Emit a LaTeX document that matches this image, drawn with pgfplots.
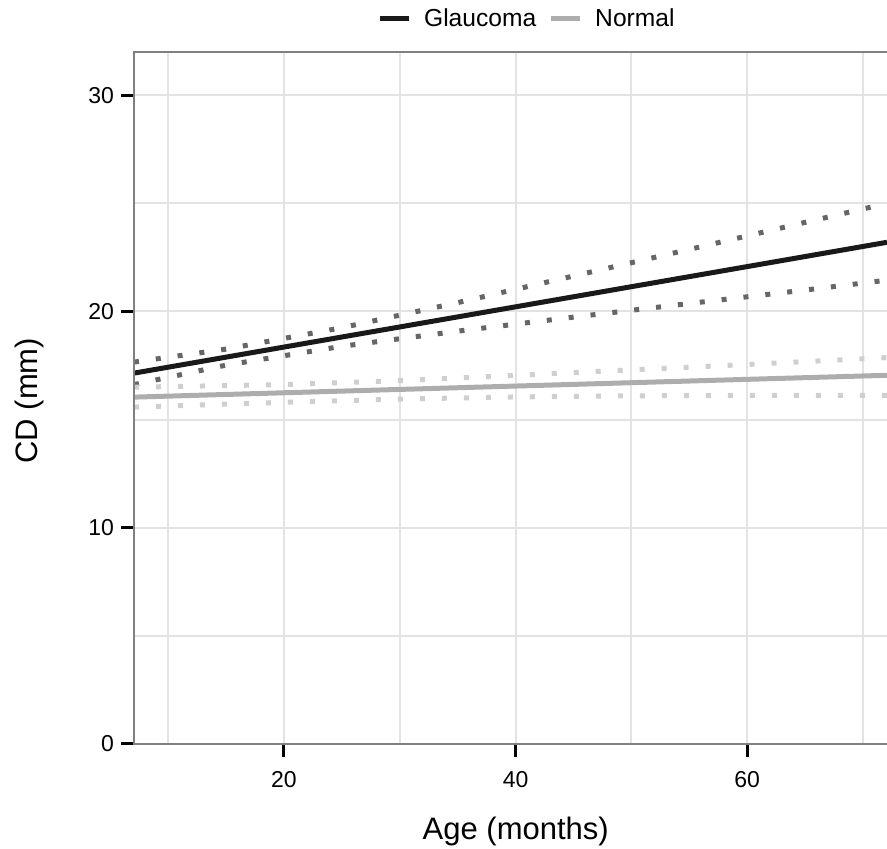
\documentclass[border=0pt]{standalone}
\usepackage{fontspec}
\setmainfont{Liberation Sans}
\usepackage{pgfplots}
\pgfplotsset{compat=1.18}
\definecolor{gridc}{HTML}{E3E3E3}
\definecolor{axisc}{HTML}{808080}
\definecolor{ciG}{HTML}{666666}
\definecolor{normc}{HTML}{ADADAD}
\definecolor{ciN}{HTML}{CFCFCF}
\begin{document}
\begin{tikzpicture}
\begin{axis}[name=ax, scale only axis, width=376.5pt, height=346pt,
  xmin=7.05, xmax=72.08, ymin=0, ymax=32,
  xtick={20,40,60}, ytick={0,10,20,30},
  xticklabels={20,40,60}, yticklabels={0,10,20,30},
  minor xtick={10,30,50,70}, minor ytick={5,15,25},
  grid=both,
  major grid style={gridc, line width=1pt},
  minor grid style={gridc, line width=1pt},
  axis line style={draw=none},
  tick align=outside, xtick pos=bottom, ytick pos=left,
  major tick length=6.5pt, minor tick length=0pt,
  tick style={black, line width=1.5pt},
  xticklabel style={font=\fontsize{11.5}{14}\selectfont, yshift=-3.5pt},
  yticklabel style={font=\fontsize{11.5}{14}\selectfont},
  xlabel={Age (months)}, ylabel={CD (mm)},
  label style={font=\fontsize{15.5}{18}\selectfont},
  xlabel style={at={(axis description cs:0.507,-0.1387)}, anchor=base},
  ylabel style={at={(axis description cs:-0.1275,0.496)}, anchor=base},
  legend columns=2,
  legend style={at={(axis description cs:0.523,1.0477)}, anchor=center,
    draw=none, fill=none, font=\fontsize{12.3}{14}\selectfont,
    /tikz/every odd column/.append style={column sep=4.5pt},
    /tikz/every even column/.append style={column sep=4pt}},
  legend image code/.code={\draw[#1, line width=2.5pt] (0pt,0pt) -- (14.5pt,0pt);},
  clip=true]

% Glaucoma confidence band (dotted)
\addplot[ciG, line width=2.5pt, dash pattern=on 2.5pt off 8.5pt, forget plot] coordinates {
  (7.05,17.66) (15,18.26) (25,19.25) (35,20.41) (45,21.64) (55,22.87) (65,24.12) (72.08,25.0)};
\addplot[ciG, line width=2.5pt, dash pattern=on 2.5pt off 8.5pt, forget plot] coordinates {
  (7.05,16.62) (15,17.52) (25,18.39) (35,19.09) (45,19.74) (55,20.37) (65,20.99) (72.08,21.45)};
% Normal confidence band (dotted)
\addplot[ciN, line width=2.5pt, dash pattern=on 2.5pt off 8.5pt, forget plot] coordinates {
  (7.05,16.50) (20,16.62) (30,16.80) (40,17.05) (50,17.30) (60,17.55) (72.08,17.87)};
\addplot[ciN, line width=2.5pt, dash pattern=on 2.5pt off 8.5pt, forget plot] coordinates {
  (7.05,15.58) (20,15.80) (30,15.95) (40,16.05) (50,16.10) (60,16.12) (72.08,16.12)};

% fitted lines
\addplot[black!90, line width=2.5pt] coordinates {(7.05,17.15) (72.08,23.2)};
\addlegendentry{Glaucoma}
\addplot[normc, line width=2.5pt] coordinates {(7.05,16.04) (72.08,17.05)};
\addlegendentry{Normal}
\end{axis}
\draw[axisc, line width=1.2pt] (ax.north east) -- (ax.north west) -- (ax.south west) -- (ax.south east);
\pgfresetboundingbox
\path ([shift={(-67pt,-52.5pt)}]ax.south west) rectangle ([shift={(0pt,26pt)}]ax.north east);
\end{tikzpicture}
\end{document}
